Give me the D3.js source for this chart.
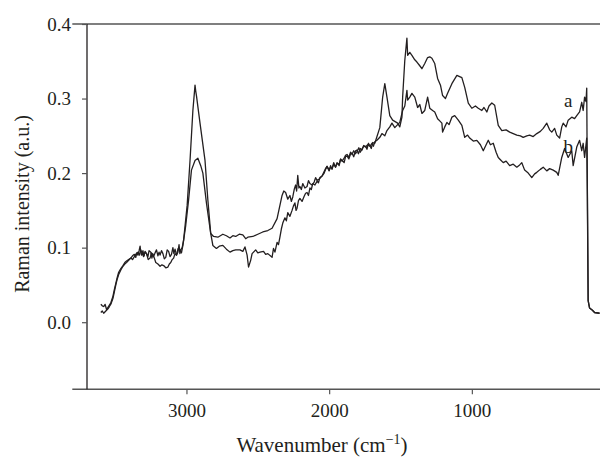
<!DOCTYPE html>
<html>
<head>
<meta charset="utf-8">
<script src="https://cdn.jsdelivr.net/npm/d3@7"></script>
<style>
  body { margin: 0; background: #fff; }
  text { font-family: "Liberation Serif", "DejaVu Serif", serif; fill: #231f20; }
</style>
</head>
<body>
<div id="chart"></div>
<script>
// Raman spectra of two samples (a, b): [wavenumber cm-1, intensity a.u.]
const spectrumA = [
    [3600,0.024],[3590,0.022],[3580,0.021],[3570,0.024],[3560,0.017],[3550,0.020],[3540,0.023],[3530,0.026],
    [3515,0.035],[3505,0.044],[3495,0.052],[3485,0.060],[3475,0.067],[3460,0.072],[3445,0.076],[3432,0.080],
    [3420,0.082],[3405,0.084],[3390,0.086],[3378,0.089],[3365,0.091],[3355,0.087],[3348,0.093],[3340,0.090],
    [3332,0.096],[3325,0.102],[3320,0.094],[3315,0.090],[3305,0.096],[3298,0.089],[3290,0.095],[3280,0.092],
    [3270,0.088],[3262,0.096],[3250,0.094],[3242,0.086],[3236,0.092],[3230,0.088],[3220,0.093],[3210,0.097],
    [3200,0.089],[3192,0.094],[3185,0.090],[3175,0.096],[3165,0.092],[3155,0.085],[3145,0.087],[3135,0.097],
    [3125,0.095],[3115,0.088],[3105,0.091],[3095,0.100],[3088,0.092],[3080,0.098],[3070,0.090],[3060,0.094],
    [3052,0.104],[3046,0.092],[3040,0.097],[3030,0.100],[3020,0.110],[2995,0.157],[2975,0.217],[2955,0.284],
    [2940,0.318],[2935,0.310],[2930,0.304],[2905,0.267],[2870,0.217],[2850,0.164],[2830,0.119],[2810,0.115],
    [2780,0.114],[2745,0.118],[2720,0.116],[2695,0.113],[2675,0.116],[2655,0.115],[2630,0.118],[2605,0.117],
    [2585,0.112],[2570,0.114],[2535,0.115],[2500,0.118],[2465,0.121],[2430,0.123],[2400,0.126],[2365,0.139],
    [2330,0.170],[2318,0.176],[2305,0.174],[2290,0.165],[2275,0.170],[2265,0.162],[2255,0.168],[2245,0.178],
    [2235,0.184],[2228,0.176],[2220,0.197],[2212,0.180],[2205,0.182],[2195,0.178],[2185,0.186],[2170,0.180],
    [2155,0.182],[2145,0.190],[2135,0.186],[2120,0.184],[2105,0.188],[2095,0.194],[2085,0.190],[2070,0.192],
    [2050,0.196],[2035,0.200],[2025,0.205],[2015,0.209],[2000,0.204],[1990,0.210],[1980,0.205],[1968,0.212],
    [1955,0.208],[1945,0.214],[1930,0.210],[1920,0.218],[1910,0.217],[1895,0.214],[1885,0.222],[1875,0.223],
    [1862,0.219],[1850,0.226],[1840,0.227],[1828,0.222],[1815,0.230],[1805,0.231],[1795,0.226],[1782,0.233],
    [1770,0.231],[1758,0.237],[1745,0.236],[1735,0.232],[1725,0.240],[1715,0.237],[1705,0.233],[1695,0.241],
    [1680,0.240],[1645,0.261],[1625,0.302],[1610,0.320],[1595,0.302],[1575,0.277],[1555,0.271],[1520,0.267],
    [1505,0.262],[1490,0.275],[1485,0.302],[1470,0.351],[1455,0.381],[1450,0.358],[1435,0.362],[1420,0.358],
    [1400,0.352],[1385,0.349],[1365,0.344],[1350,0.340],[1330,0.347],[1310,0.355],[1295,0.356],[1280,0.354],
    [1260,0.347],[1240,0.327],[1220,0.318],[1205,0.304],[1185,0.300],[1170,0.307],[1140,0.320],[1105,0.331],
    [1070,0.328],[1050,0.315],[1025,0.294],[1000,0.287],[975,0.290],[955,0.287],[930,0.284],[915,0.288],
    [895,0.282],[880,0.290],[860,0.294],[840,0.291],[815,0.264],[790,0.257],[760,0.258],[735,0.255],
    [710,0.253],[685,0.251],[660,0.250],[640,0.248],[615,0.250],[595,0.251],[570,0.249],[545,0.253],
    [520,0.256],[500,0.260],[475,0.267],[455,0.258],[440,0.255],[420,0.260],[405,0.251],[385,0.247],
    [370,0.262],[360,0.267],[340,0.262],[325,0.271],[300,0.275],[280,0.273],[265,0.277],[245,0.282],
    [230,0.295],[220,0.284],[210,0.302],[200,0.296],[195,0.314],[190,0.150],[185,0.029],[175,0.019],
    [155,0.016],[140,0.013],[105,0.012]
];

const spectrumB = [
    [3600,0.013],[3590,0.015],[3580,0.012],[3570,0.014],[3560,0.016],[3550,0.018],[3540,0.021],[3528,0.025],
    [3515,0.032],[3505,0.041],[3495,0.050],[3485,0.058],[3475,0.064],[3460,0.070],[3445,0.075],[3432,0.078],
    [3420,0.080],[3405,0.083],[3390,0.086],[3378,0.084],[3365,0.088],[3352,0.092],[3340,0.094],[3330,0.090],
    [3320,0.097],[3310,0.092],[3300,0.088],[3290,0.094],[3280,0.092],[3268,0.084],[3255,0.086],[3245,0.093],
    [3235,0.090],[3225,0.086],[3215,0.080],[3200,0.078],[3185,0.075],[3172,0.077],[3160,0.076],[3145,0.073],
    [3130,0.074],[3120,0.078],[3110,0.080],[3100,0.084],[3090,0.086],[3080,0.092],[3070,0.090],[3058,0.099],
    [3045,0.097],[3035,0.093],[3025,0.103],[3005,0.130],[2985,0.164],[2965,0.204],[2940,0.217],[2920,0.220],
    [2900,0.210],[2885,0.200],[2860,0.160],[2830,0.119],[2815,0.103],[2790,0.099],[2770,0.102],[2745,0.103],
    [2720,0.098],[2695,0.094],[2675,0.096],[2655,0.097],[2625,0.097],[2605,0.095],[2590,0.101],[2575,0.090],
    [2565,0.074],[2550,0.083],[2540,0.092],[2515,0.097],[2500,0.093],[2485,0.094],[2460,0.095],[2445,0.091],
    [2430,0.092],[2400,0.087],[2390,0.099],[2380,0.094],[2365,0.107],[2355,0.104],[2345,0.114],[2335,0.125],
    [2325,0.133],[2310,0.140],[2300,0.136],[2290,0.147],[2275,0.142],[2260,0.150],[2250,0.156],[2240,0.160],
    [2232,0.150],[2225,0.153],[2215,0.163],[2205,0.166],[2190,0.162],[2175,0.169],[2165,0.173],[2155,0.174],
    [2145,0.170],[2135,0.180],[2125,0.178],[2115,0.186],[2100,0.184],[2085,0.189],[2075,0.187],[2065,0.194],
    [2050,0.196],[2035,0.202],[2025,0.206],[2015,0.209],[2000,0.203],[1990,0.208],[1980,0.206],[1968,0.214],
    [1955,0.208],[1945,0.213],[1930,0.212],[1920,0.219],[1910,0.216],[1895,0.220],[1885,0.224],[1875,0.225],
    [1862,0.221],[1850,0.228],[1840,0.225],[1828,0.230],[1815,0.226],[1805,0.229],[1792,0.234],[1782,0.228],
    [1770,0.232],[1758,0.236],[1745,0.235],[1730,0.238],[1715,0.236],[1700,0.240],[1690,0.236],[1680,0.242],
    [1665,0.244],[1645,0.248],[1630,0.253],[1610,0.250],[1595,0.257],[1575,0.262],[1560,0.267],[1540,0.261],
    [1525,0.264],[1505,0.268],[1485,0.284],[1470,0.290],[1455,0.311],[1450,0.298],[1435,0.302],[1420,0.307],
    [1400,0.302],[1380,0.288],[1365,0.292],[1350,0.280],[1330,0.284],[1310,0.302],[1295,0.287],[1275,0.284],
    [1260,0.282],[1240,0.273],[1225,0.270],[1210,0.267],[1205,0.255],[1190,0.262],[1175,0.268],[1160,0.265],
    [1140,0.275],[1120,0.277],[1095,0.271],[1070,0.264],[1050,0.248],[1030,0.251],[1015,0.247],[990,0.243],
    [965,0.244],[940,0.238],[920,0.230],[900,0.238],[885,0.244],[870,0.238],[850,0.240],[830,0.228],
    [815,0.221],[800,0.218],[780,0.214],[760,0.216],[735,0.210],[710,0.212],[685,0.208],[665,0.211],
    [650,0.214],[630,0.204],[605,0.200],[580,0.194],[560,0.199],[545,0.201],[520,0.205],[500,0.208],
    [475,0.203],[455,0.206],[430,0.204],[405,0.201],[395,0.197],[370,0.221],[350,0.233],[325,0.221],
    [300,0.230],[290,0.210],[265,0.235],[245,0.244],[230,0.230],[220,0.240],[210,0.221],[195,0.247],
    [190,0.170],[185,0.029],[175,0.019],[155,0.016],[140,0.013],[105,0.012]
];

const xTicks = [3000, 2000, 1000];
const yTicks = [0.0, 0.1, 0.2, 0.3, 0.4];
const curveLabels = ['a', 'b'];
const labelWavenumber = [325, 325];
const labelIntensity = [0.294, 0.233];

const width = 600;
const height = 458;
const ink = '#231f20';

// axis extents (wavenumber runs right to left)
const x = d3.scaleLinear().domain([3800, 102]).range([72.3, 600]);
const y = d3.scaleLinear().domain([-0.09, 0.4]).range([389.3, 24]);
const yAxisAt = 3697;

const svg = d3.select('#chart')
    .append('svg')
    .attr('width', width)
    .attr('height', height);

drawAxes();
drawSpectrum(spectrumA);
drawSpectrum(spectrumB);
drawLabels();

//-------------------------------------------------------------
function drawAxes() {
    // top frame line
    svg.append('line')
       .attr('x1', x.range()[0]).attr('x2', x.range()[1])
       .attr('y1', y(0.4)).attr('y2', y(0.4))
       .attr('stroke', '#555').attr('stroke-width', 1.4);

    const xAxis = svg.append('g')
        .attr('transform', `translate(0,${y.range()[0]})`)
        .call(d3.axisBottom(x).tickValues(xTicks).tickSize(5).tickPadding(9).tickFormat(d3.format('d')));
    xAxis.select('.domain').attr('stroke', '#555').attr('stroke-width', 1.4).attr('d', `M${x.range()[0]},0H${x.range()[1]}`);
    xAxis.selectAll('.tick line').attr('stroke', '#555').attr('stroke-width', 1.2);
    xAxis.selectAll('text').attr('font-size', 19).attr('fill', ink)
         .attr('font-family', '"Liberation Serif", serif');

    const yAxis = svg.append('g')
        .attr('transform', `translate(${x(yAxisAt)},0)`)
        .call(d3.axisLeft(y).tickValues(yTicks).tickSize(5).tickPadding(11).tickFormat(d3.format('.1f')));
    yAxis.select('.domain').attr('stroke', ink).attr('stroke-width', 1.3).attr('d', `M0,${y.range()[1]}V${y.range()[0]}`);
    yAxis.selectAll('.tick line').attr('stroke', '#555').attr('stroke-width', 1.2);
    yAxis.selectAll('text').attr('font-size', 19).attr('fill', ink)
         .attr('font-family', '"Liberation Serif", serif');

    // axis titles
    const xTitle = svg.append('text')
        .attr('x', 322).attr('y', 452)
        .attr('text-anchor', 'middle')
        .attr('font-size', 21);
    xTitle.append('tspan').text('Wavenumber (cm');
    xTitle.append('tspan').text('\u22121').attr('font-size', 14).attr('dy', -8);
    xTitle.append('tspan').text(')').attr('dy', 8);

    svg.append('text')
       .attr('transform', 'translate(29,204) rotate(-90)')
       .attr('text-anchor', 'middle')
       .attr('font-size', 20)
       .text('Raman intensity (a.u.)');
}

function drawSpectrum(points) {
    svg.append('path')
       .datum(points)
       .attr('fill', 'none')
       .attr('stroke', ink)
       .attr('stroke-width', 1.3)
       .attr('stroke-linejoin', 'round')
       .attr('d', d3.line().x(d => x(d[0])).y(d => y(d[1])));
}

function drawLabels() {
    svg.selectAll('.curve-label')
       .data(curveLabels)
       .enter()
       .append('text')
       .attr('class', 'curve-label')
       .attr('x', (d, i) => x(labelWavenumber[i]))
       .attr('y', (d, i) => y(labelIntensity[i]))
       .attr('text-anchor', 'middle')
       .attr('dominant-baseline', 'middle')
       .attr('font-size', 19)
       .text(d => d);
}
</script>
</body>
</html>
